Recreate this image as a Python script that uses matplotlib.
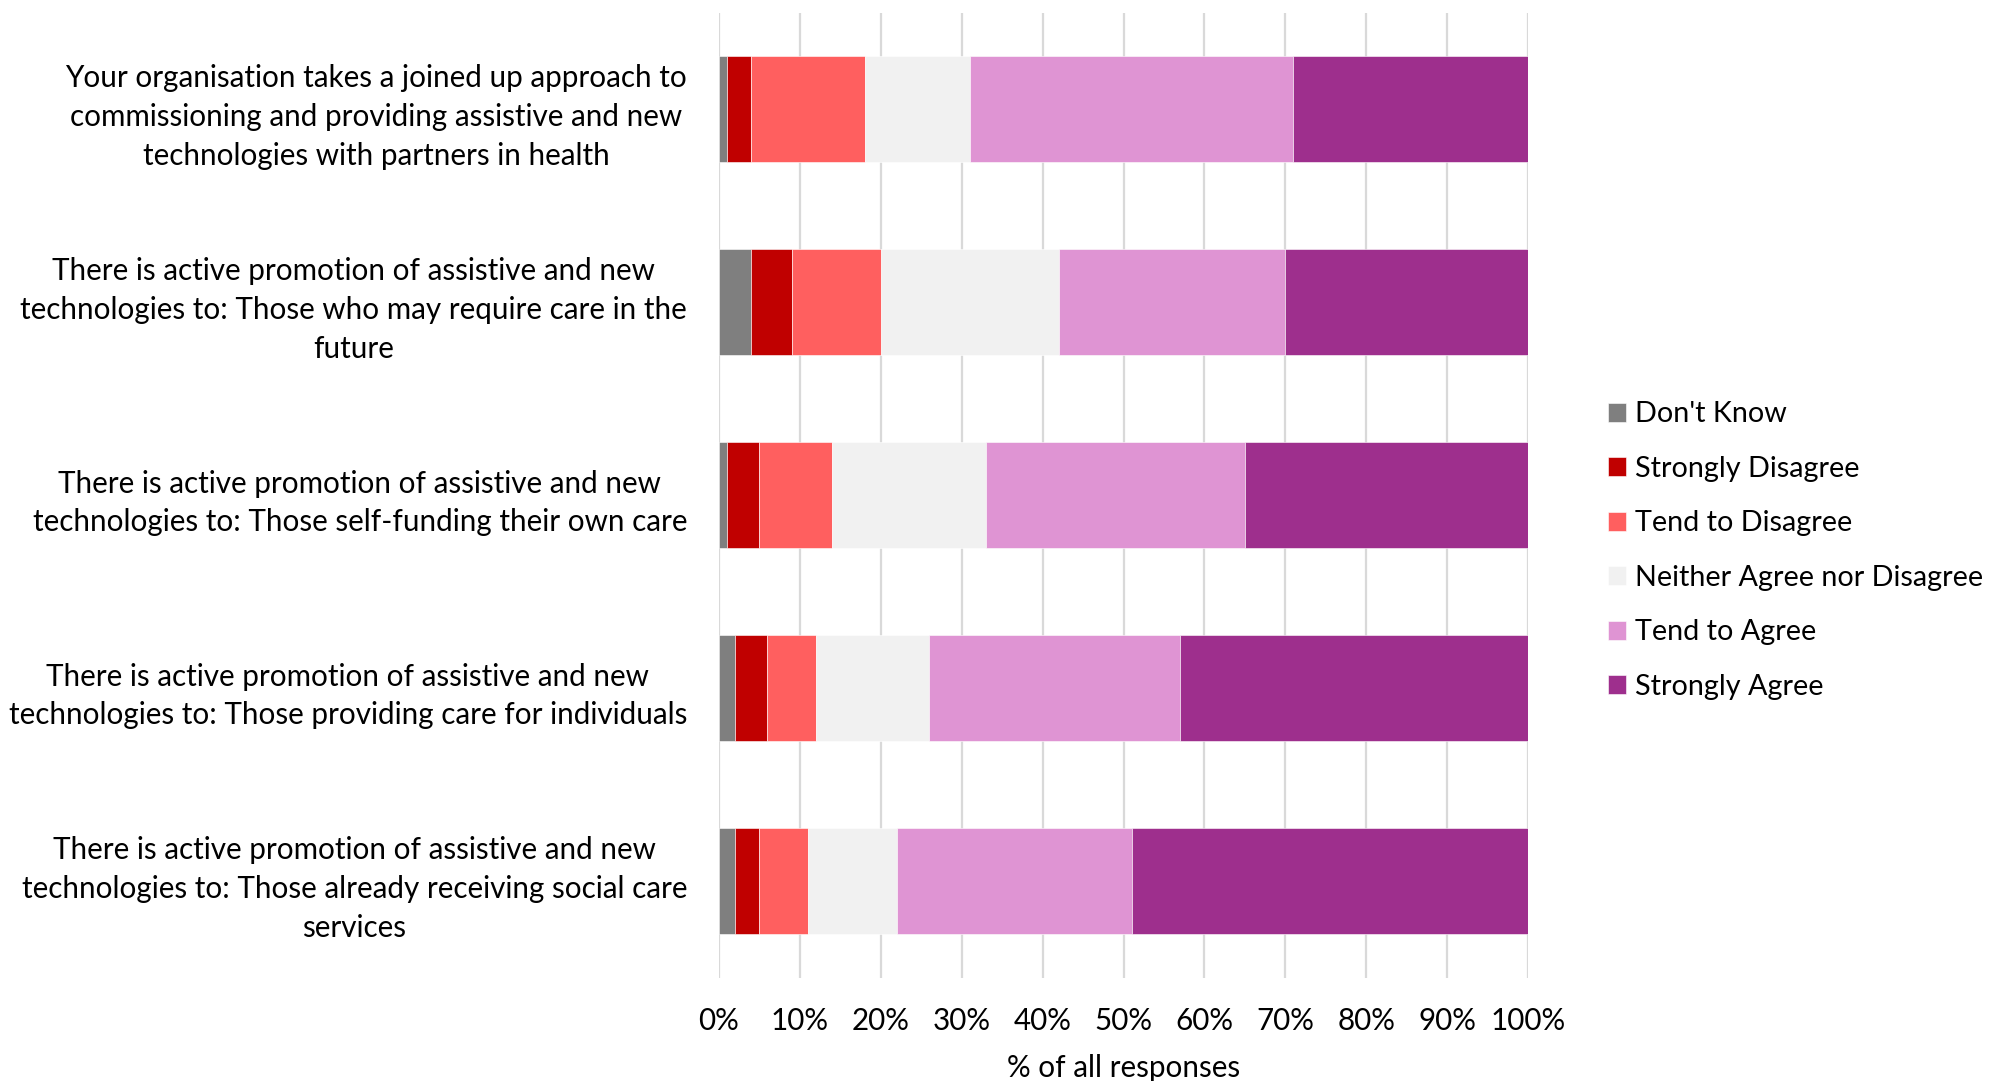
import matplotlib
matplotlib.use("Agg")
import matplotlib.pyplot as plt
import numpy as np

plt.rcParams['font.family'] = ['Lato', 'DejaVu Sans']

statements = [
    "Your organisation takes a joined up approach to\ncommissioning and providing assistive and new\ntechnologies with partners in health",
    "There is active promotion of assistive and new\ntechnologies to: Those who may require care in the\nfuture",
    "There is active promotion of assistive and new\ntechnologies to: Those self-funding their own care",
    "There is active promotion of assistive and new\ntechnologies to: Those providing care for individuals",
    "There is active promotion of assistive and new\ntechnologies to: Those already receiving social care\nservices",
]

responses = ["Don't Know", "Strongly Disagree", "Tend to Disagree",
             "Neither Agree nor Disagree", "Tend to Agree", "Strongly Agree"]

dont_know         = [1, 4, 1, 2, 2]
strongly_disagree = [3, 5, 4, 4, 3]
tend_disagree     = [14, 11, 9, 6, 6]
neither           = [13, 22, 19, 14, 11]
tend_agree        = [40, 28, 32, 31, 29]
strongly_agree    = [29, 30, 35, 43, 49]

colors = ["#7f7f7f", "#c00000", "#ff5f5f", "#f1f1f1", "#df94d3", "#9e2f8d"]

series = [dont_know, strongly_disagree, tend_disagree, neither, tend_agree, strongly_agree]

FS = 21.3

fig = plt.figure(figsize=(19.91, 10.81), dpi=100)
ax = fig.add_axes([0.3611, 0.0955, 0.4064, 0.8928])

y = np.arange(len(statements))
left = np.zeros(len(statements))
for vals, name, col in zip(series, responses, colors):
    vals = np.array(vals, dtype=float)
    ax.barh(y, vals, left=left, height=0.55, color=col, label=name,
            edgecolor='white', linewidth=0.4, zorder=3)
    left += vals

ax.set_ylim(len(statements) - 0.5, -0.5)
ax.set_xlim(0, 100)
ax.set_xticks(np.arange(0, 101, 10))
ax.set_xticklabels([f"{v}%" for v in range(0, 101, 10)], fontsize=FS)
ax.set_yticks(y)
ax.set_yticklabels(statements, fontsize=FS, multialignment='center', linespacing=1.46)
ax.tick_params(axis='both', length=0)
ax.tick_params(axis='y', pad=23)
ax.tick_params(axis='x', pad=21)
ax.set_xlabel("% of all responses", fontsize=FS, labelpad=14)
ax.grid(axis='x', color='#d9d9d9', linewidth=1.6, zorder=0)
for s in ax.spines.values():
    s.set_visible(False)

leg = fig.legend(loc='center left', bbox_to_anchor=(0.8076, 0.4907),
                 frameon=False, fontsize=20.7, handlelength=0.64, handleheight=0.64,
                 handletextpad=0.3, labelspacing=0.99, borderpad=0, borderaxespad=0)

fig.savefig("out.png", dpi=100, facecolor='white')
